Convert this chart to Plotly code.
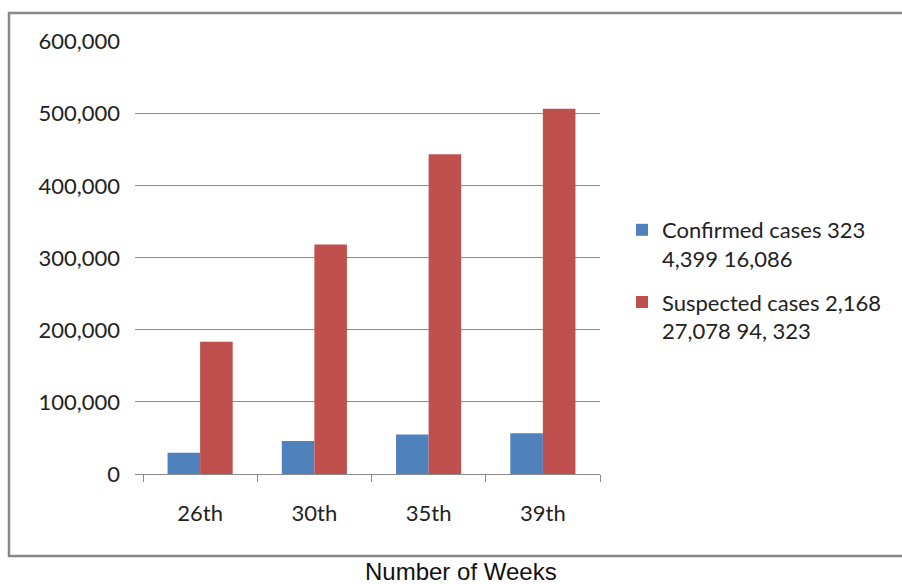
import plotly.graph_objects as go

# Figure size in pixels
W, H = 902, 584

# Chart data
weeks = ["26th", "30th", "35th", "39th"]
confirmed = [29600, 45800, 54700, 56500]
suspected = [183600, 318500, 443700, 507000]
series_names = [
    "Confirmed cases 323<br>4,399 16,086",
    "Suspected cases 2,168<br>27,078 94, 323",
]
y_tick_values = [0, 100000, 200000, 300000, 400000, 500000, 600000]
y_tick_labels = ["0", "100,000", "200,000", "300,000", "400,000", "500,000", "600,000"]
x_title = "Number of Weeks"

BLUE = "#4F81BD"
RED = "#C0504D"
GRID = "#8a8a8a"
TEXT = "#222222"
FONT = "Lato"


def px_x(px):
    return px / W


def px_y(px):
    return 1 - px / H


fig = go.Figure()
fig.add_trace(go.Bar(x=weeks, y=confirmed, name=series_names[0], legendgroup="confirmed",
                     marker=dict(color=BLUE, line=dict(width=0))))
fig.add_trace(go.Bar(x=weeks, y=suspected, name=series_names[1], legendgroup="suspected",
                     marker=dict(color=RED, line=dict(width=0))))

fig.update_layout(
    template="none",
    width=W, height=H,
    margin=dict(l=0, r=0, t=0, b=0, pad=0, autoexpand=False),
    paper_bgcolor="white", plot_bgcolor="white",
    barmode="group", bargap=0.43, bargroupgap=0,
    font=dict(family=FONT, color=TEXT),
    showlegend=True,
    legend=dict(
        x=px_x(622), y=px_y(209), xanchor="left", yanchor="top",
        font=dict(family=FONT, size=22, color=TEXT),
        valign="top", itemwidth=30, tracegroupgap=12,
        bgcolor="rgba(0,0,0,0)", borderwidth=0,
    ),
    xaxis=dict(
        domain=[px_x(135), px_x(600)],
        range=[-0.57, 3.5],
        automargin=False,
        showgrid=False, zeroline=False,
        showline=True, linecolor=GRID, linewidth=1,
        ticks="outside", tickson="boundaries", ticklen=7, tickcolor=GRID,
        tickfont=dict(family=FONT, size=22, color=TEXT),
        ticklabelstandoff=20,
    ),
    yaxis=dict(
        domain=[px_y(474), px_y(41.7)],
        range=[0, 600000],
        automargin=False,
        tickvals=y_tick_values, ticktext=y_tick_labels,
        showgrid=True, gridcolor=GRID, gridwidth=1,
        zeroline=False, showline=False, ticks="",
        tickfont=dict(family=FONT, size=22, color=TEXT),
        ticklabelstandoff=14,
    ),
    shapes=[dict(
        type="rect", xref="paper", yref="paper",
        x0=px_x(9), x1=px_x(906), y0=px_y(556), y1=px_y(13),
        line=dict(color="#888888", width=2.5), fillcolor="rgba(0,0,0,0)",
        layer="below",
    )],
    annotations=[dict(
        text=x_title, xref="paper", yref="paper",
        x=px_x(461), y=px_y(571), xanchor="center", yanchor="middle",
        showarrow=False,
        font=dict(family="Liberation Sans", size=24, color="#111111"),
    )],
)

fig.write_html("out.html")
